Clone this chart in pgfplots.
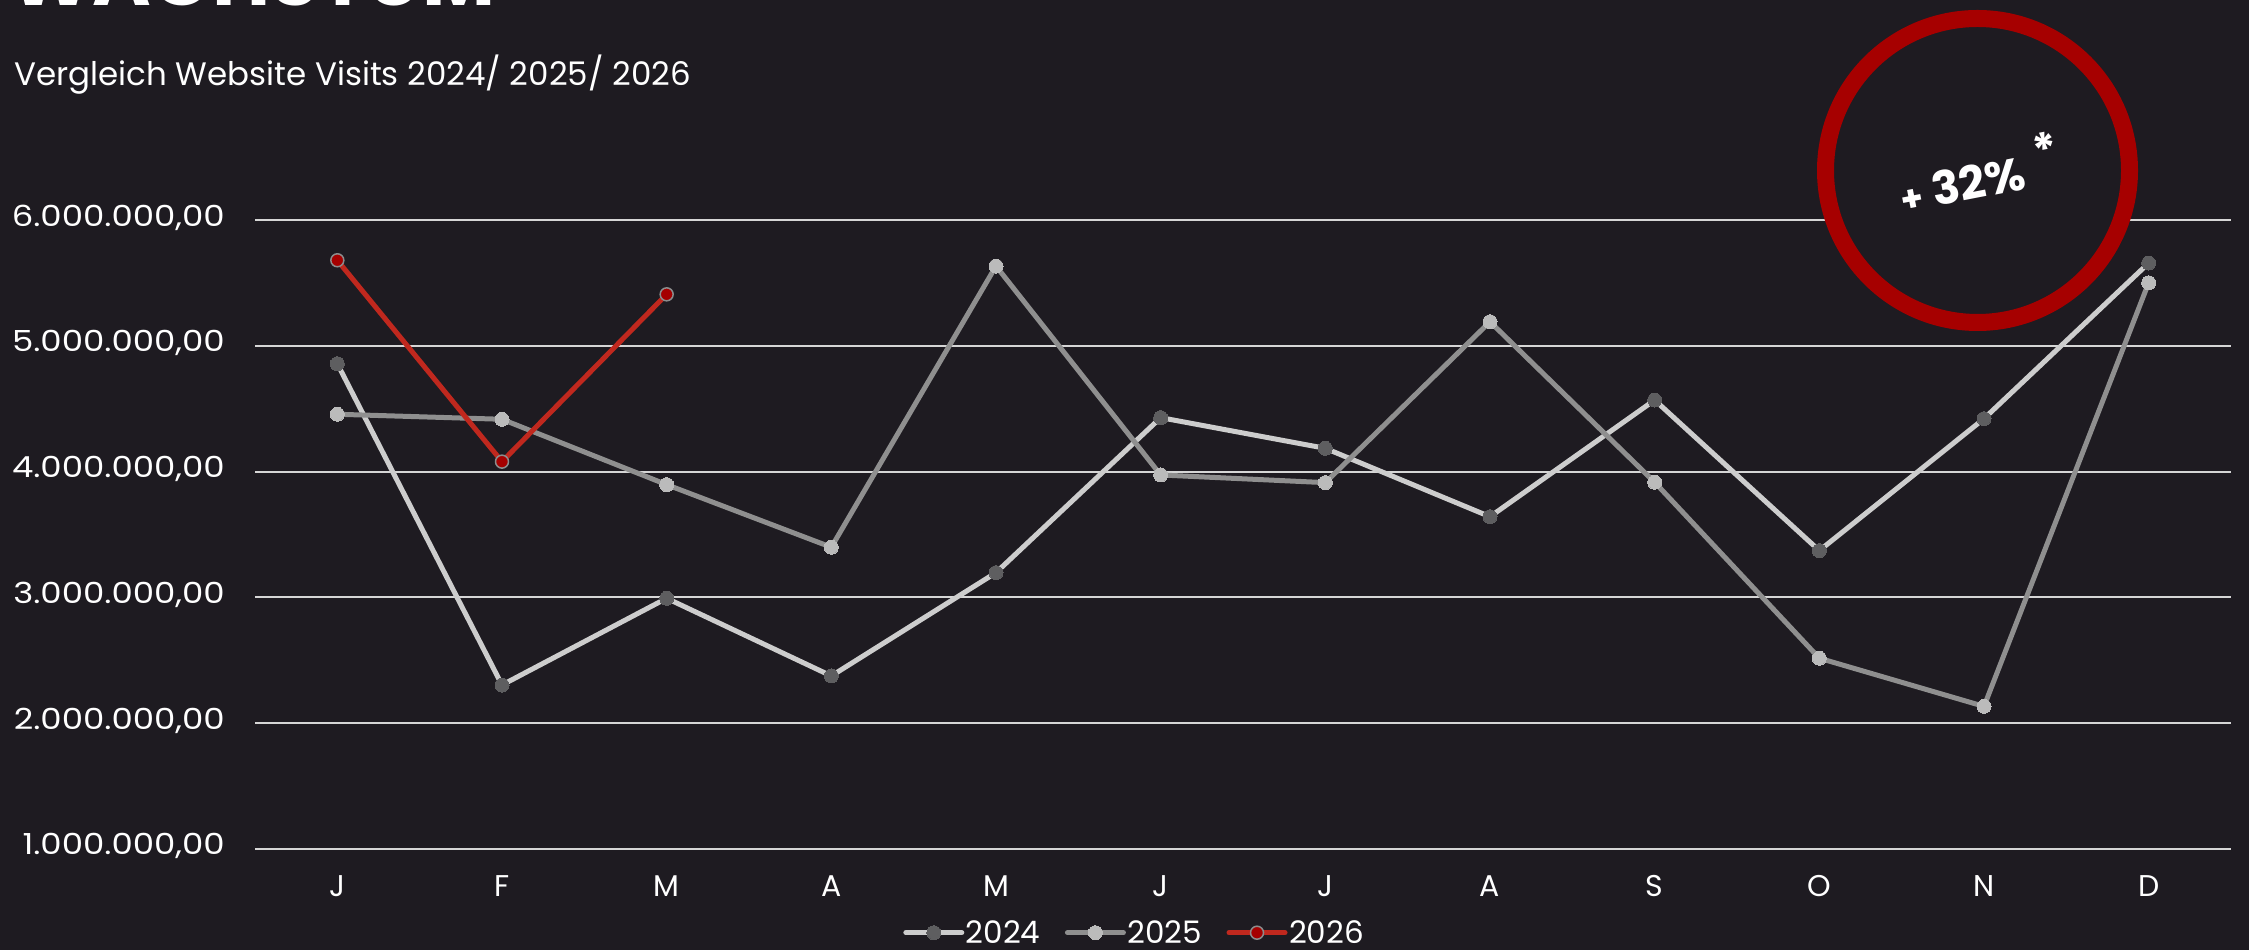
\documentclass[border=0pt]{standalone}
\usepackage{fontspec}
\setmainfont{Poppins}
\usepackage{graphicx}
\usepackage{pgfplots}
\pgfplotsset{compat=1.18}
\definecolor{bg}{RGB}{30,27,33}
\definecolor{gridc}{RGB}{214,214,214}
\definecolor{lineA}{RGB}{205,205,205}
\definecolor{markA}{RGB}{94,94,96}
\definecolor{lineB}{RGB}{143,143,143}
\definecolor{markB}{RGB}{187,187,187}
\definecolor{lineC}{RGB}{192,40,30}
\definecolor{markC}{RGB}{165,0,0}
\definecolor{markCb}{RGB}{140,140,140}
\definecolor{ring}{RGB}{166,0,0}
\newcommand{\yl}[1]{\scalebox{1.17}[1]{#1}}

\begin{document}
\begin{tikzpicture}[x=1pt,y=1pt]
\useasboundingbox (0,0) rectangle (2249,950);
\fill[bg] (0,0) rectangle (2249,950);
\begin{scope}
\clip (0,0) rectangle (2249,950);
\node[anchor=base west, inner sep=0pt, text=white] at (9,944) {\resizebox{486pt}{!}{\bfseries WACHSTUM}};
\end{scope}
\node[anchor=base west, inner sep=0pt, text=white, font=\fontsize{32.5}{36}\selectfont] at (14,864) {Vergleich Website Visits 2024/ 2025/ 2026};

\begin{axis}[
  at={(255pt,101.2pt)}, anchor=south west, scale only axis,
  width=1976pt, height=628.5pt,
  xmin=-0.5, xmax=11.5, ymin=1, ymax=6,
  axis line style={draw=none},
  ytick={1,2,3,4,5,6},
  yticklabels={{\yl{1.000.000,00}},{\yl{2.000.000,00}},{\yl{3.000.000,00}},{\yl{4.000.000,00}},{\yl{5.000.000,00}},{\yl{6.000.000,00}}},
  ymajorgrids, grid style={gridc, line width=2pt},
  major tick length=0pt,
  xtick={0,...,11},
  xticklabels={J,F,M,A,M,J,J,A,S,O,N,D},
  tick label style={text=white},
  yticklabel style={font=\fontsize{29}{30}\selectfont, anchor=base east, inner sep=0pt, xshift=-30pt, yshift=-6pt},
  xticklabel style={font=\fontsize{30}{32}\selectfont, anchor=base, inner sep=0pt, yshift=-48pt},
  clip=false,
  legend columns=3,
  legend style={at={(0.4450,-0.1335)}, anchor=center, draw=none, fill=none, text=white,
    font=\fontsize{31}{33}\selectfont,
    /tikz/every even column/.append style={column sep=23pt},
    nodes={inner sep=1.5pt}},
  legend image code/.code={\draw[mark repeat=2, mark phase=2, #1] plot coordinates {(0pt,0pt) (28pt,0pt) (56pt,0pt)};},
]
\addplot[color=lineA, line width=5pt, line cap=round, line join=round, mark=*, mark size=7pt,
  mark options={fill=markA, draw=markA, line width=0pt}] coordinates {
  (0,4.859) (1,2.303) (2,2.993) (3,2.375) (4,3.197) (5,4.430)
  (6,4.186) (7,3.642) (8,4.570) (9,3.372) (10,4.422) (11,5.660)};
\addlegendentry{2024}
\addplot[color=lineB, line width=5pt, line cap=round, line join=round, mark=*, mark size=7pt,
  mark options={fill=markB, draw=markB, line width=0pt}] coordinates {
  (0,4.457) (1,4.417) (2,3.897) (3,3.399) (4,5.636) (5,3.974)
  (6,3.913) (7,5.193) (8,3.916) (9,2.516) (10,2.133) (11,5.503)};
\addlegendentry{2025}
\addplot[color=lineC, line width=5pt, line cap=round, line join=round, mark=*, mark size=6.5pt,
  mark options={fill=markC, draw=markCb, line width=1.5pt}] coordinates {
  (0,5.682) (1,4.080) (2,5.411)};
\addlegendentry{2026}
\end{axis}

\draw[ring, fill=bg, line width=17pt] (1977.5,779.5) circle (152pt);
\node[rotate=11, text=white, inner sep=0pt, font=\fontsize{46}{46}\selectfont\bfseries] at (1979,778)
  {{\fontsize{36}{36}\selectfont +} 32\%\;\raisebox{0.4em}{*}};
\end{tikzpicture}
\end{document}
